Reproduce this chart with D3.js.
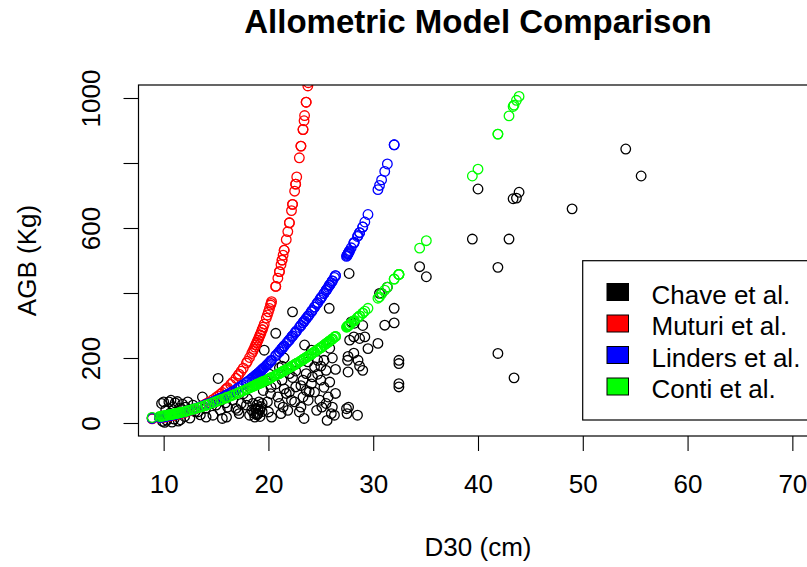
<!DOCTYPE html>
<html><head><meta charset="utf-8">
<script src="https://cdn.jsdelivr.net/npm/d3@7"></script>
<style>
body{margin:0;background:#fff;}
svg{display:block;}
text{font-family:"Liberation Sans",Arial,Helvetica,sans-serif;fill:#000;}
</style>
</head><body>
<svg id="c" width="807" height="567"></svg>
<script>
// ---- data ----
const d30 = [
 8.9, 9.6, 9.8, 9.9, 10.0, 10.1, 10.2, 10.3, 10.5, 10.6,
 10.7, 10.8, 10.9, 11.0, 11.1, 11.2, 11.3, 11.4, 11.5, 11.6,
 11.8, 12.0, 12.1, 12.3, 12.5, 12.8, 13.0, 13.25, 13.5, 13.7,
 14.0, 14.05, 14.3, 14.7, 15.0, 15.2, 15.4, 15.6, 15.9, 16.0,
 16.1, 16.4, 16.6, 16.9, 17.1, 17.2, 17.4, 17.6, 17.9, 18.0,
 18.2, 18.4, 18.5, 18.6, 18.7, 18.8, 18.9, 19.0, 19.1, 19.2,
 19.3, 19.4, 19.5, 19.6, 19.8, 19.9, 20.0, 20.1, 20.2, 20.3,
 20.25, 20.7, 20.9, 21.05, 21.2, 21.3, 21.4, 21.5, 21.7, 21.85,
 22.0, 22.2, 22.3, 22.5, 22.6, 22.7, 22.95, 23.1, 23.3, 23.4,
 23.45, 23.6, 23.76, 23.8, 23.9, 24.1, 24.2, 24.4, 24.6, 24.7,
 24.9, 25.0, 25.1, 25.3, 25.5, 25.6, 25.7, 25.8, 25.85, 26.0,
 26.1, 26.3, 26.4, 27.45, 27.5, 27.55, 27.6, 27.65, 27.7, 27.75,
 27.9, 28.15, 28.2, 28.5, 28.55, 28.7, 29.0, 29.2, 29.5, 30.45,
 30.6, 30.8, 31.1, 31.35, 32.0, 32.0, 32.45, 32.45, 32.45, 32.45,
 34.43, 35.07, 39.46, 40.0, 41.9, 41.9, 42.96, 43.35, 43.44, 43.67,
 43.92, 48.98, 54.1, 55.57,
 20.7, 21.05, 21.3, 21.5, 22.0, 22.3, 22.6, 23.1, 23.3, 23.6,
 24.1, 24.4, 24.7, 25.0, 25.3, 25.5, 25.85, 26.1, 26.4, 27.6,
 28.15, 28.7, 29.0, 18.8, 18.9, 19.0, 19.2, 19.4
];
const chave = [
 16, 18, 60, 5, 65, 2, 40, 8, 65, 30,
 70, 3, 50, 12, 62, 25, 66, 6, 45, 10,
 58, 20, 49, 65, 15, 55, 35, 34, 25, 80,
 45, 18, 60, 24, 55, 137, 40, 14, 62, 18,
 49, 85, 70, 45, 39, 29, 60, 90, 55, 75,
 24, 40, 60, 30, 18, 45, 25, 44, 65, 20,
 50, 35, 100, 224, 130, 65, 34, 150, 90, 18,
 110, 276, 80, 170, 29, 132, 49, 200, 91, 39,
 152, 70, 342, 65, 111, 183, 34, 49, 132, 14,
 240, 152, 188, 70, 96, 224, 142, 173, 39, 193,
 70, 132, 49, 193, 162, 8, 80, 353, 126, 29,
 49, 24, 91, 44, 29, 193, 157, 49, 460, 255,
 311, 265, 307, 24, 193, 260, 162, 265, 229, 245,
 399, 399, 301, 418, 353, 308, 193, 183, 121, 111,
 481, 450, 566, 720, 479, 214, 566, 690, 139, 692,
 710, 659, 843, 760,
 120, 60, 175, 105, 95, 140, 160, 115, 80, 100,
 120, 95, 150, 175, 110, 60, 230, 200, 165, 205,
 215, 175, 300, 30, 55, 28, 40, 60
];
const muturi = [
 13, 16, 17, 17.5, 18, 18.5, 19.1, 19.7, 20.8, 21.5,
 22.1, 22.8, 23.5, 24.2, 24.9, 25.7, 26.4, 27.2, 28, 28.9,
 30.6, 32.5, 33.5, 35.5, 37.6, 41.1, 43.6, 46.6, 50.5, 53.6,
 58.5, 59, 63.9, 71.9, 78.6, 83.4, 88.4, 93.8, 102.4, 105.5,
 108.7, 118.7, 125.9, 137.5, 145.8, 150.2, 159.3, 168.9, 184.5, 190,
 201.6, 213.8, 220, 226.7, 233.5, 240.5, 247.6, 255, 262.7, 270.6,
 278.5, 286.9, 295.3, 304.2, 322.8, 332.3, 342, 352.3, 362.9, 373.5,
 368, 420.3, 445.6, 465.9, 487, 501.2, 516.4, 531.5, 564.1, 589,
 616, 653.6, 672.7, 713.3, 734.9, 757, 816, 852, 903, 930,
 946, 987, 1037, 1047, 1078, null, null, null, null, null,
 null, null, null, null, null, null, null, null, null, null,
 null, null, null, null, null, null, null, null, null, null,
 null, null, null, null, null, null, null, null, null, null,
 null, null, null, null, null, null, null, null, null, null,
 null, null, null, null, null, null, null, null, null, null,
 null, null, null, null,
 420.3, 465.9, 501.2, 531.5, 616, 672.7, 734.9, 852, 903, 987,
 null, null, null, null, null, null, null, null, null, null,
 null, null, null, 240.5, 247.6, 255, 270.6, 286.9
];
const linders = [
 14, 17, 18, 18.5, 19, 19.7, 20.4, 21.1, 22.5, 23.2,
 23.9, 24.6, 25.3, 26, 26.8, 27.6, 28.4, 29.2, 30, 30.8,
 32.4, 34, 35, 37, 39, 42, 44, 47, 50, 52.4,
 56, 56.7, 60.2, 65.8, 70, 73.2, 76.4, 79.6, 84.4, 86,
 87.9, 93.6, 97.4, 103.1, 107.2, 109.4, 113.8, 118.2, 124.8, 127,
 132, 137, 139.5, 142, 144.5, 147, 149.5, 152, 155.1, 158.2,
 161.3, 164.4, 167.5, 170.6, 176.8, 179.9, 183, 186.5, 190, 193.5,
 191.8, 207.5, 214.5, 219.9, 225.6, 229.4, 233.2, 237, 244.6, 250.3,
 256, 264, 268, 276, 280, 284, 294, 300.2, 308.6, 312.8,
 314.9, 321.2, 327.9, 329.6, 333.8, 342.6, 347.2, 356.4, 365.6, 370.2,
 379.4, 384, 388.8, 398.4, 408, 412.8, 417.6, 422.4, 424.8, 432,
 437.4, 448.2, 453.6, 512.6, 515.5, 518.5, 521.4, 524.4, 527.3, 530.3,
 539.1, 553.7, 556.6, 574, 576.9, 585.6, 603, 618.4, 641.5, 718,
 731, 748, 774, 797, 856, 856, null, null, null, null,
 null, null, null, null, null, null, null, null, null, null,
 null, null, null, null,
 207.5, 219.9, 229.4, 237, 256, 268, 280, 300.2, 308.6, 321.2,
 342.6, 356.4, 370.2, 384, 398.4, 408, 424.8, 437.4, 453.6, 521.4,
 553.7, 585.6, 603, 147, 149.5, 152, 158.2, 164.4
];
const conti = [
 17, 20, 21, 21.5, 22, 22.6, 23.2, 23.8, 25, 25.6,
 26.2, 26.8, 27.4, 28, 28.7, 29.4, 30.1, 30.8, 31.5, 32.2,
 33.6, 35, 35.9, 37.7, 39.5, 42.2, 44, 46.5, 49, 51,
 54, 54.6, 57.6, 62.4, 66, 68.4, 70.8, 73.2, 76.8, 78,
 79.3, 83.2, 85.8, 89.7, 92.4, 93.8, 96.6, 99.4, 103.6, 105,
 108, 111, 112.5, 114, 115.5, 117, 118.5, 120, 121.5, 123,
 124.5, 126, 127.5, 129, 132, 133.5, 135, 136.7, 138.4, 140.1,
 139.3, 146.9, 150.3, 152.9, 155.6, 157.4, 159.2, 161, 164.6, 167.3,
 170, 173.8, 175.7, 179.5, 181.4, 183.3, 188, 191.1, 195.3, 197.4,
 198.5, 201.6, 205, 205.8, 207.9, 212.2, 214.4, 218.8, 223.2, 225.4,
 229.8, 232, 234.4, 239.2, 244, 246.4, 248.8, 251.2, 252.4, 256,
 258.6, 263.8, 266.4, 294.6, 296, 297.4, 298.8, 300.2, 301.6, 303,
 307.2, 314.2, 315.6, 324, 325.4, 329.6, 338, 344, 353, 384,
 388, 398, 409, 418, 443, 443, 457, 457, 457, 457,
 538, 561, 760, 781, 889, 889, 945, 974, 978, 993,
 1005, null, null, null,
 146.9, 152.9, 157.4, 161, 170, 175.7, 181.4, 191.1, 195.3, 201.6,
 212.2, 218.8, 225.4, 232, 239.2, 244, 252.4, 258.6, 266.4, 298.8,
 314.2, 329.6, 338, 117, 118.5, 120, 123, 126
];
const seriesNames = ["Chave et al.", "Muturi et al.", "Linders et al.", "Conti et al."];
const xTicks = [10, 20, 30, 40, 50, 60, 70];
const yTicks = [0, 200, 400, 600, 800, 1000];
const yTickLabels = ["0", "200", "", "600", "", "1000"];
const xLimits = [10, 70];
const yLimits = [0, 1000];
const titleText = "Allometric Model Comparison";
const xLabel = "D30 (cm)";
const yLabel = "AGB (Kg)";

// ---- styling / layout ----
const colors = ["#000000", "#ff0000", "#0000ff", "#00ff00"];
const W = 807, H = 567;
const box = {left: 138.5, top: 85, right: 817.5, bottom: 436};
const pad = v => [v[0] - 0.04 * (v[1] - v[0]), v[1] + 0.04 * (v[1] - v[0])];

const x = d3.scaleLinear().domain(pad(xLimits)).range([box.left, box.right]);
const y = d3.scaleLinear().domain(pad(yLimits)).range([box.bottom, box.top]);

const svg = d3.select("#c");
svg.append("rect").attr("width", W).attr("height", H).attr("fill", "#fff");

svg.append("defs").append("clipPath").attr("id", "clip")
  .append("rect").attr("x", box.left).attr("y", box.top)
  .attr("width", box.right - box.left).attr("height", box.bottom - box.top);

const valueSets = [chave, muturi, linders, conti];
const pts = svg.append("g").attr("clip-path", "url(#clip)");
valueSets.forEach((vals, k) => {
  const data = d30.map((d, i) => [d, vals[i]]).filter(p => p[1] !== null && p[1] !== undefined);
  pts.append("g").selectAll("circle").data(data).join("circle")
    .attr("cx", p => x(p[0])).attr("cy", p => y(p[1]))
    .attr("r", 4.8).attr("fill", "none")
    .attr("stroke", colors[k]).attr("stroke-width", 1.3);
});

// box
svg.append("rect").attr("x", box.left).attr("y", box.top)
  .attr("width", box.right - box.left).attr("height", box.bottom - box.top)
  .attr("fill", "none").attr("stroke", "#000").attr("stroke-width", 1.2);

// x axis
const xa = svg.append("g").attr("transform", `translate(0,${box.bottom})`)
  .call(d3.axisBottom(x).tickValues(xTicks).tickSize(15).tickFormat(d3.format("d")));
xa.select(".domain").remove();
xa.selectAll(".tick line").attr("stroke", "#000").attr("stroke-width", 1.1);
xa.selectAll(".tick text").attr("y", 57).attr("dy", null)
  .attr("font-size", 26).attr("font-family", "'Liberation Sans',Arial,sans-serif").attr("fill", "#000");

// y axis
const ya = svg.append("g").attr("transform", `translate(${box.left},0)`)
  .call(d3.axisLeft(y).tickValues(yTicks).tickSize(15).tickFormat((d, i) => yTickLabels[i]));
ya.select(".domain").remove();
ya.selectAll(".tick line").attr("stroke", "#000").attr("stroke-width", 1.1);
ya.selectAll(".tick text").attr("x", null).attr("y", null).attr("dy", null)
  .attr("text-anchor", "middle")
  .attr("transform", `translate(${100 - box.left},0) rotate(-90)`)
  .attr("font-size", 26).attr("font-family", "'Liberation Sans',Arial,sans-serif").attr("fill", "#000");

// titles
const cx = (box.left + box.right) / 2;
svg.append("text").attr("x", cx).attr("y", 33).attr("text-anchor", "middle")
  .attr("font-size", 33).attr("font-weight", "bold").text(titleText);
svg.append("text").attr("x", cx).attr("y", 556).attr("text-anchor", "middle")
  .attr("font-size", 26).text(xLabel);
svg.append("text").attr("transform", `translate(36,${(box.top + box.bottom) / 2}) rotate(-90)`)
  .attr("text-anchor", "middle").attr("font-size", 26).text(yLabel);

// legend
const lg = svg.append("g");
lg.append("rect").attr("x", 582.7).attr("y", 260.7).attr("width", 240).attr("height", 159.3)
  .attr("fill", "#fff").attr("stroke", "#000").attr("stroke-width", 1.2);
seriesNames.forEach((name, i) => {
  const c = 292 + 31.5 * i;
  lg.append("rect").attr("x", 607).attr("y", c - 8.5).attr("width", 21.5).attr("height", 17)
    .attr("fill", colors[i]).attr("stroke", "#000").attr("stroke-width", 1);
  lg.append("text").attr("x", 651.5).attr("y", c + 11.5).attr("font-size", 26).text(name);
});
</script>
</body></html>
